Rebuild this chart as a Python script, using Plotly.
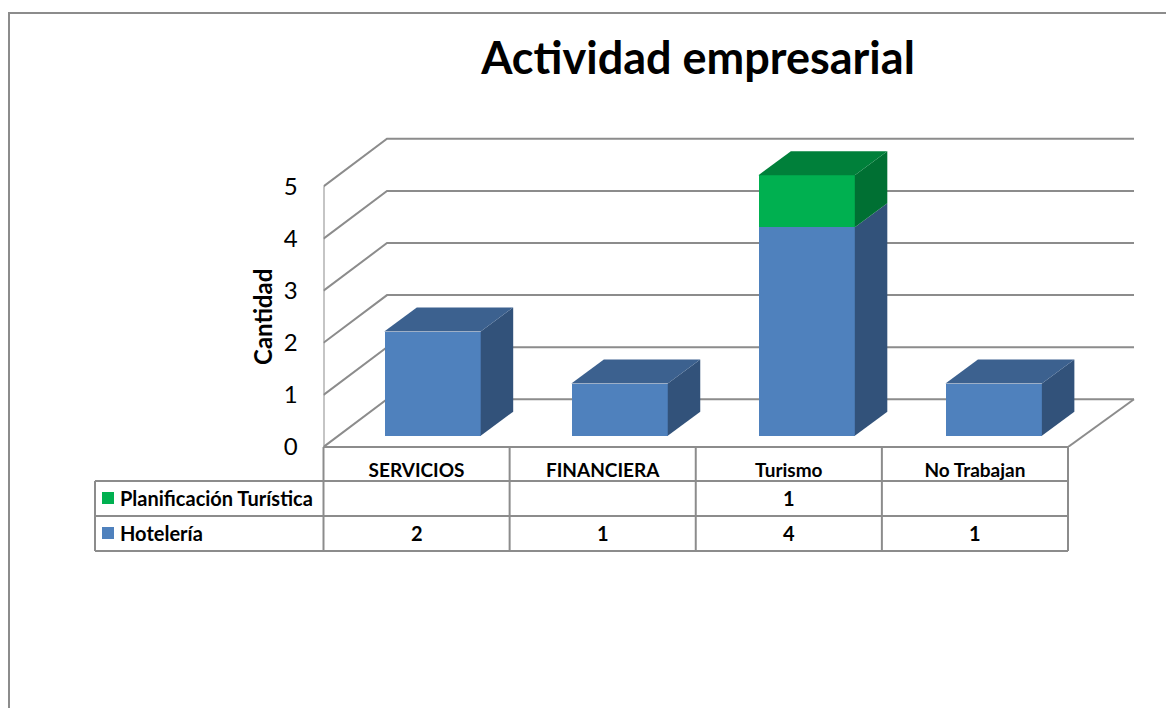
# -*- coding: utf-8 -*-
"""
Actividad empresarial - Excel style 3D stacked columns with data table.
"""

import plotly.graph_objects as go

#%% Data

categories = ['SERVICIOS', 'FINANCIERA', 'Turismo', 'No Trabajan']
hoteleria = [2, 1, 4, 1]
planificacion = [None, None, 1, None]
y_ticks = [0, 1, 2, 3, 4, 5]

#%% Page geometry (pixels) and look

# the page body has an 8px margin on the left and top
PAGE_MARGIN = 8
W, H = 1166, 700
X0_PX, X4_PX = 323.5, 1068.0    # x axis, front edge
Y0_PX, Y5_PX = 447.0, 186.5     # y axis, front edge
PX_X = (X4_PX - X0_PX) / 4
PX_Y = (Y0_PX - Y5_PX) / 5

# wall depth and bar placement, in axis units
WALL_DX, WALL_DY = 63.5 / PX_X, 47.7 / PX_Y
WALL_DX_RIGHT = 66 / PX_X
BAR_DX, BAR_DY = 32.5 / PX_X, 24 / PX_Y
SHIFT_X, SHIFT_Y = 0.0856, 11.3 / PX_Y
BAR_STEP = 1.005
BAR_W = 0.518

GRID = '#8c8c8c'
LINE_W = 2
BLUE = ['#4f81bd', '#3c618f', '#32527a']     # front, top, side
GREEN = ['#00b050', '#00803a', '#007033']


def paper_x(px):
    return (px - PAGE_MARGIN) / W


def paper_y(px):
    return 1 - (px - PAGE_MARGIN) / H


fig = go.Figure()

#%% Front faces

centers = [i * BAR_STEP + 0.5 + SHIFT_X for i in range(len(categories))]

fig.add_trace(go.Bar(
    x=centers, y=hoteleria, base=[SHIFT_Y] * 4, width=BAR_W,
    marker_color=BLUE[0], marker_line_width=0, name='Hotelería',
))
fig.add_trace(go.Bar(
    x=centers, y=planificacion,
    base=[SHIFT_Y + h for h in hoteleria], width=BAR_W,
    marker_color=GREEN[0], marker_line_width=0, name='Planificación Turística',
))


#%% Side and top faces

def add_face(xs, ys, color):
    fig.add_trace(go.Scatter(
        x=xs, y=ys, mode='lines', fill='toself', fillcolor=color,
        line_width=0, hoverinfo='skip', cliponaxis=False,
    ))


for c, h, p in zip(centers, hoteleria, planificacion):
    right = c + BAR_W / 2
    left = c - BAR_W / 2
    lo = SHIFT_Y
    hi = SHIFT_Y + h
    add_face([right, right + BAR_DX, right + BAR_DX, right],
             [lo, lo + BAR_DY, hi + BAR_DY, hi], BLUE[2])
    colors = BLUE
    if p:
        lo, hi = hi, hi + p
        add_face([right, right + BAR_DX, right + BAR_DX, right],
                 [lo, lo + BAR_DY, hi + BAR_DY, hi], GREEN[2])
        colors = GREEN
    add_face([left, right, right + BAR_DX, left + BAR_DX],
             [hi, hi, hi + BAR_DY, hi + BAR_DY], colors[1])

#%% Walls and floor

shapes = []
n = len(categories)
for v in y_ticks:
    shapes.append(dict(
        type='path', layer='below', xref='x', yref='y',
        path=f'M 0 {v} L {WALL_DX} {v + WALL_DY} L {n + WALL_DX_RIGHT} {v + WALL_DY}',
        line=dict(color=GRID, width=LINE_W),
    ))
shapes.append(dict(type='line', layer='below', xref='x', yref='y',
                   x0=0, x1=0, y0=0, y1=y_ticks[-1],
                   line=dict(color=GRID, width=LINE_W)))
shapes.append(dict(type='line', layer='below', xref='x', yref='y',
                   x0=n, x1=n + WALL_DX_RIGHT, y0=0, y1=WALL_DY,
                   line=dict(color=GRID, width=LINE_W)))

#%% Data table

ROW_TOP, ROW_1, ROW_2, ROW_3 = 447.0, 481.0, 516.0, 551.0
TABLE_LEFT = 95.0


def table_line(x0, x1, y0, y1):
    shapes.append(dict(type='line', xref='paper', yref='paper',
                       x0=paper_x(x0), x1=paper_x(x1),
                       y0=paper_y(y0), y1=paper_y(y1),
                       line=dict(color=GRID, width=LINE_W)))


table_line(X0_PX, X4_PX, ROW_TOP, ROW_TOP)
for row in [ROW_1, ROW_2, ROW_3]:
    table_line(TABLE_LEFT, X4_PX, row, row)
table_line(TABLE_LEFT, TABLE_LEFT, ROW_1, ROW_3)
for i in range(n + 1):
    x_px = X0_PX + i * PX_X
    table_line(x_px, x_px, ROW_TOP, ROW_3)

# legend keys inside the table
for color, y_px in [(GREEN[0], 498), (BLUE[0], 533)]:
    shapes.append(dict(type='rect', xref='paper', yref='paper',
                       x0=paper_x(102), x1=paper_x(114),
                       y0=paper_y(y_px - 6), y1=paper_y(y_px + 6),
                       fillcolor=color, line_width=0))

# outer chart border, runs off the page on the right and bottom
shapes.append(dict(type='rect', xref='paper', yref='paper',
                   x0=paper_x(9), x1=1.2, y0=-0.2, y1=paper_y(13),
                   line=dict(color=GRID, width=LINE_W)))

annotations = []


def cell(text, x, xref, y_px, xanchor='center'):
    annotations.append(dict(
        text=text, x=x, xref=xref, y=paper_y(y_px), yref='paper',
        xanchor=xanchor, yanchor='middle', showarrow=False,
        font=dict(family='Lato', size=20, color='black', weight='bold'),
    ))


cell('Planificación Turística', paper_x(118), 'paper', 498, 'left')
cell('Hotelería', paper_x(118), 'paper', 533, 'left')
for i in range(n):
    if planificacion[i] is not None:
        cell(str(planificacion[i]), i + 0.5, 'x', 498)
    if hoteleria[i] is not None:
        cell(str(hoteleria[i]), i + 0.5, 'x', 533)

annotations.append(dict(
    text='Cantidad', textangle=-90, x=paper_x(262), y=paper_y(317),
    xref='paper', yref='paper', xanchor='center', yanchor='middle',
    showarrow=False,
    font=dict(family='Lato', size=24, color='black', weight='bold'),
))

#%% Layout

DOM_LEFT, DOM_RIGHT, DOM_TOP = X0_PX, 1140.0, 130.0

fig.update_layout(
    width=W, height=H,
    margin=dict(l=0, r=0, t=0, b=0),
    paper_bgcolor='white', plot_bgcolor='white',
    barmode='overlay', bargap=0,
    showlegend=False,
    title=dict(text='<b>Actividad empresarial</b>',
               x=paper_x(698), xanchor='center', xref='paper',
               y=paper_y(58), yanchor='middle', yref='container',
               font=dict(family='Lato', size=45, color='black')),
    shapes=shapes,
    annotations=annotations,
    xaxis=dict(
        domain=[paper_x(DOM_LEFT), paper_x(DOM_RIGHT)],
        range=[0, (DOM_RIGHT - X0_PX) / PX_X],
        automargin=False,
        tickvals=[i + 0.5 for i in range(n)], ticktext=categories,
        ticks='outside', ticklen=6, tickcolor='rgba(0,0,0,0)',
        tickfont=dict(family='Lato', size=19, color='black', weight='bold'),
        showgrid=False, zeroline=False, showline=False,
    ),
    yaxis=dict(
        domain=[paper_y(Y0_PX), paper_y(DOM_TOP)],
        range=[0, (Y0_PX - DOM_TOP) / PX_Y],
        automargin=False,
        tickvals=y_ticks,
        ticks='outside', ticklen=20, tickcolor='rgba(0,0,0,0)',
        tickfont=dict(family='Lato', size=24, color='black'),
        showgrid=False, zeroline=False, showline=False,
    ),
)

fig.write_html("out.html")
